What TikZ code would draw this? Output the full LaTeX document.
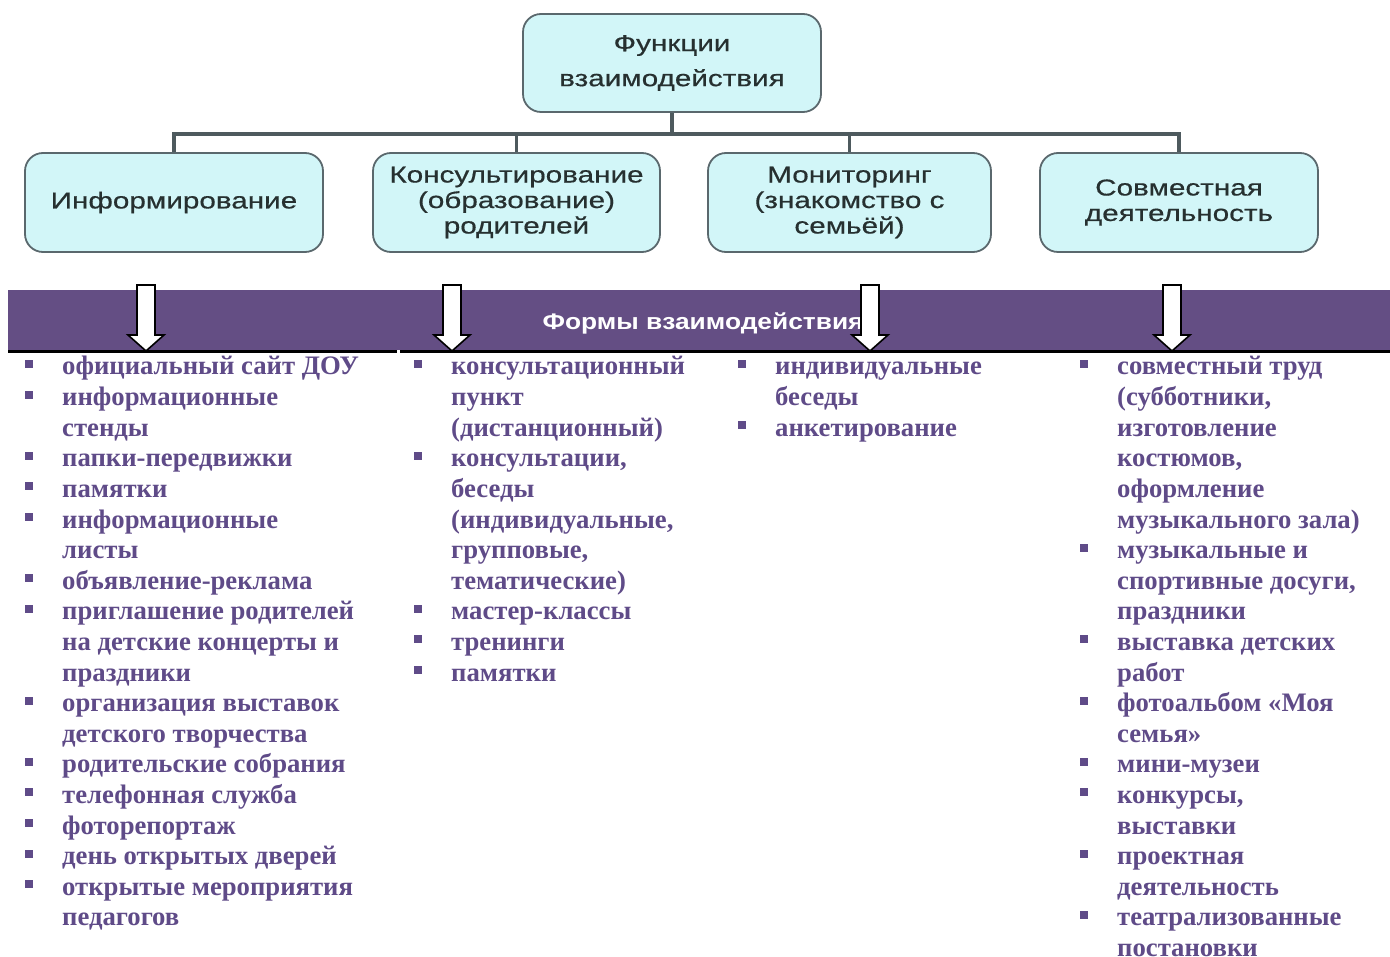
\documentclass[tikz,border=0pt]{standalone}
\usepackage{fontspec}
\setmainfont{Liberation Serif}
\newfontfamily\boxfont[FakeStretch=1.29,FakeBold=0.5]{Liberation Sans}
\newfontfamily\bandfont[FakeStretch=1.17]{Liberation Sans}
\definecolor{boxfill}{HTML}{D2F6F8}
\definecolor{boxborder}{HTML}{5A686D}
\definecolor{boxtext}{HTML}{263030}
\definecolor{conncol}{HTML}{4E5A5E}
\definecolor{bandcol}{HTML}{644E84}
\definecolor{itemcol}{HTML}{5F4B88}
\tikzset{
  fbox/.style={draw=boxborder, line width=1.8pt, rounded corners=18pt, fill=boxfill,
    minimum height=99pt, inner sep=2pt, align=center,
    font=\boxfont\fontsize{23}{25.5}\selectfont, text=boxtext},
  conn/.style={draw=conncol, line width=3.2pt},
  band/.style={fill=bandcol, draw=none, minimum width=1382pt, minimum height=60pt, inner sep=0pt},
  bandtitle/.style={text=white, font=\bandfont\bfseries\fontsize{22.5}{24}\selectfont, inner sep=0pt, anchor=base},
  blockarrow/.style={fill=white, draw=black, line width=1.6pt, line join=miter},
  itm/.style={anchor=base west, inner sep=0pt, text=itemcol, font=\bfseries\fontsize{26.7}{30}\selectfont},
  bul/.style={fill=itemcol},
  rule/.style={draw=black, line width=3.5pt}
}
\newcommand\itl[4]{\node[itm] (c#1l#2) at (#3, {375+30.6*(#2-1)}) {#4};}
\newcommand\itb[4]{\itl{#1}{#2}{#3}{#4}\fill[bul] ({#3-37},{375+30.6*(#2-1)-15}) rectangle ++(8,8);}
\newcommand\blkarrow[1]{\draw[blockarrow] ({#1-9},285) -- ({#1+9},285) -- ({#1+9},335) -- ({#1+18},335) -- (#1,351) -- ({#1-18},335) -- ({#1-9},335) -- cycle;}
\begin{document}
\begin{tikzpicture}[x=1pt,y=-1pt]
\useasboundingbox (0,0) rectangle (1390,957);
% top box
\node[fbox, minimum width=298pt, minimum height=98pt, font=\boxfont\fontsize{23}{35}\selectfont] (top) at (672,63) {Функции\\взаимодействия};
% second row
\node[fbox, minimum width=298pt] (b1) at (174,202.5) {Информирование};
\node[fbox, minimum width=287pt] (b2) at (516.5,202.5) {Консультирование\\(образование)\\родителей};
\node[fbox, minimum width=283pt] (b3) at (849.5,202.5) {Мониторинг\\(знакомство с\\семьёй)};
\node[fbox, minimum width=278pt] (b4) at (1179,202.5) {Совместная\\деятельность};
% connectors
\coordinate (bus) at (672,134);
\draw[conn] (top.south) -- (bus);
\draw[conn] (b1.north) |- (bus);
\draw[conn] (b2.north) |- (bus);
\draw[conn] (b3.north) |- (bus);
\draw[conn] (b4.north) |- (bus);
% band
\node[band] (band) at (699,320) {};
\node[bandtitle] (bandt) at (703,330) {Формы взаимодействия};
\coordinate (rA) at (8,351.5);
\coordinate (rB) at (397,351.5);
\coordinate (rC) at (400,351.5);
\coordinate (rD) at (1390,351.5);
\draw[rule] (rA) -- (rB);
\draw[rule] (rC) -- (rD);
% arrows
\blkarrow{146}
\blkarrow{452}
\blkarrow{870}
\blkarrow{1172}
% column 1
\itb{1}{1}{62}{официальный сайт ДОУ}
\itb{1}{2}{62}{информационные}
\itl{1}{3}{62}{стенды}
\itb{1}{4}{62}{папки-передвижки}
\itb{1}{5}{62}{памятки}
\itb{1}{6}{62}{информационные}
\itl{1}{7}{62}{листы}
\itb{1}{8}{62}{объявление-реклама}
\itb{1}{9}{62}{приглашение родителей}
\itl{1}{10}{62}{на детские концерты и}
\itl{1}{11}{62}{праздники}
\itb{1}{12}{62}{организация выставок}
\itl{1}{13}{62}{детского творчества}
\itb{1}{14}{62}{родительские собрания}
\itb{1}{15}{62}{телефонная служба}
\itb{1}{16}{62}{фоторепортаж}
\itb{1}{17}{62}{день открытых дверей}
\itb{1}{18}{62}{открытые мероприятия}
\itl{1}{19}{62}{педагогов}
% column 2
\itb{2}{1}{451}{консультационный}
\itl{2}{2}{451}{пункт}
\itl{2}{3}{451}{(дистанционный)}
\itb{2}{4}{451}{консультации,}
\itl{2}{5}{451}{беседы}
\itl{2}{6}{451}{(индивидуальные,}
\itl{2}{7}{451}{групповые,}
\itl{2}{8}{451}{тематические)}
\itb{2}{9}{451}{мастер-классы}
\itb{2}{10}{451}{тренинги}
\itb{2}{11}{451}{памятки}
% column 3
\itb{3}{1}{775}{индивидуальные}
\itl{3}{2}{775}{беседы}
\itb{3}{3}{775}{анкетирование}
% column 4
\itb{4}{1}{1117}{совместный труд}
\itl{4}{2}{1117}{(субботники,}
\itl{4}{3}{1117}{изготовление}
\itl{4}{4}{1117}{костюмов,}
\itl{4}{5}{1117}{оформление}
\itl{4}{6}{1117}{музыкального зала)}
\itb{4}{7}{1117}{музыкальные и}
\itl{4}{8}{1117}{спортивные досуги,}
\itl{4}{9}{1117}{праздники}
\itb{4}{10}{1117}{выставка детских}
\itl{4}{11}{1117}{работ}
\itb{4}{12}{1117}{фотоальбом «Моя}
\itl{4}{13}{1117}{семья»}
\itb{4}{14}{1117}{мини-музеи}
\itb{4}{15}{1117}{конкурсы,}
\itl{4}{16}{1117}{выставки}
\itb{4}{17}{1117}{проектная}
\itl{4}{18}{1117}{деятельность}
\itb{4}{19}{1117}{театрализованные}
\itl{4}{20}{1117}{постановки}
\end{tikzpicture}
\end{document}
